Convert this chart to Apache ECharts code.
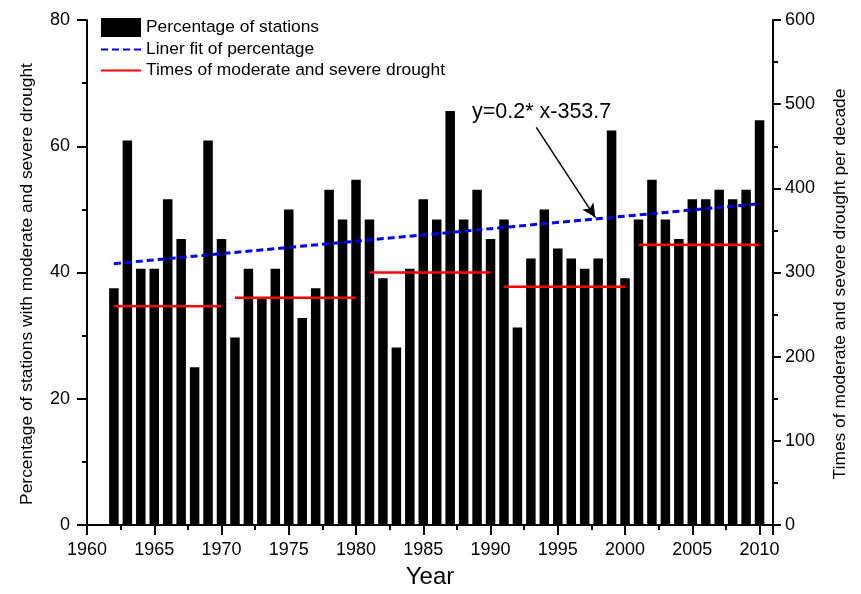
<!DOCTYPE html>
<html>
<head>
<meta charset="utf-8">
<script src="https://cdn.jsdelivr.net/npm/echarts@6/dist/echarts.min.js"></script>
<style>
  html, body { margin: 0; padding: 0; background: #fff; }
  #chart { width: 861px; height: 594px; }
</style>
</head>
<body>
<div id="chart"></div>
<script>
// percentage of stations with moderate and severe drought, 1962-2010
var years = [];
for (var y = 1962; y <= 2010; y++) years.push(y);

var percentage = [
    37.5, 60.9, 40.6, 40.6, 51.6, 45.3, 25.0, 60.9, 45.3,       // 1962-1970
    29.7, 40.6, 35.9, 40.6, 50.0, 32.8, 37.5, 53.1, 48.4, 54.7, // 1971-1980
    48.4, 39.1, 28.1, 40.6, 51.6, 48.4, 65.6, 48.4, 53.1, 45.3, // 1981-1990
    48.4, 31.3, 42.2, 50.0, 43.8, 42.2, 40.6, 42.2, 62.5, 39.1, // 1991-2000
    48.4, 54.7, 48.4, 45.3, 51.6, 51.6, 53.1, 51.6, 53.1, 64.1  // 2001-2010
];

// linear fit end points
var fitYears = [1962, 2010];
var fitValues = [41.4, 50.9];

// times of moderate and severe drought per decade
var decadeStart = [1962, 1971, 1981, 1991, 2001];
var decadeEnd = [1970, 1980, 1990, 2000, 2010];
var decadeTimes = [260, 270, 300, 283, 333];

var xTicks = [1960, 1965, 1970, 1975, 1980, 1985, 1990, 1995, 2000, 2005, 2010];

var FONT = '"Liberation Sans", Arial, sans-serif';

var chart = echarts.init(document.getElementById('chart'));

var barData = years.map(function (yr, i) { return [yr, percentage[i]]; });
var fitData = fitYears.map(function (yr, i) { return [yr, fitValues[i]]; });
var decadeData = [];
for (var i = 0; i < decadeStart.length; i++) {
    if (i > 0) decadeData.push('-');
    decadeData.push([decadeStart[i], decadeTimes[i]]);
    decadeData.push([decadeEnd[i], decadeTimes[i]]);
}

var axisLineStyle = { color: '#000', width: 2 };

var option = {
    backgroundColor: '#fff',
    animation: false,
    textStyle: { fontFamily: FONT, color: '#000' },
    grid: { left: 87, right: 88, top: 20, bottom: 63 },
    legend: {
        orient: 'vertical',
        left: 100,
        top: 18,
        padding: 0,
        itemWidth: 40,
        itemHeight: 19,
        itemGap: 4,
        textStyle: { fontSize: 17.4, fontFamily: FONT, color: '#000' },
        data: [
            { name: 'Percentage of stations', icon: 'rect' },
            { name: 'Liner fit of percentage', itemStyle: { opacity: 0 } },
            { name: 'Times of moderate and severe drought', itemStyle: { opacity: 0 } }
        ]
    },
    xAxis: {
        type: 'value',
        min: 1960,
        max: 2011,
        interval: 5,
        name: 'Year',
        nameLocation: 'middle',
        nameGap: 40,
        nameTextStyle: { fontSize: 24, fontFamily: FONT, color: '#000' },
        axisLine: { show: true, onZero: false, lineStyle: axisLineStyle },
        axisTick: { show: true, inside: false, length: 10, lineStyle: axisLineStyle },
        minorTick: { show: true, splitNumber: 2, length: 5, lineStyle: axisLineStyle },
        splitLine: { show: false },
        axisLabel: {
            fontSize: 18, margin: 16, color: '#000', fontFamily: FONT,
            showMaxLabel: false,
            formatter: function (v) { return xTicks.indexOf(v) >= 0 ? String(v) : ''; }
        }
    },
    yAxis: [
        {
            type: 'value',
            position: 'left',
            min: 0, max: 80, interval: 20,
            name: 'Percentage of stations with moderate and severe drought',
            nameLocation: 'middle',
            nameGap: 51,
            nameTextStyle: { fontSize: 17.4, fontFamily: FONT, color: '#000', padding: [0, 23, 0, 0] },
            axisLine: { show: true, lineStyle: axisLineStyle },
            axisTick: { show: true, length: 10, lineStyle: axisLineStyle },
            minorTick: { show: true, splitNumber: 2, length: 5, lineStyle: axisLineStyle },
            splitLine: { show: false },
            axisLabel: { fontSize: 18, margin: 17, color: '#000', fontFamily: FONT }
        },
        {
            type: 'value',
            position: 'right',
            min: 0, max: 600, interval: 100,
            name: 'Times of moderate and severe drought per decade',
            nameLocation: 'middle',
            nameGap: 59,
            nameTextStyle: { fontSize: 17.4, fontFamily: FONT, color: '#000', padding: [0, 23, 0, 0] },
            axisLine: { show: true, lineStyle: axisLineStyle },
            axisTick: { show: true, length: 8, lineStyle: axisLineStyle },
            minorTick: { show: true, splitNumber: 2, length: 5, lineStyle: axisLineStyle },
            splitLine: { show: false },
            axisLabel: { fontSize: 18, margin: 12, color: '#000', fontFamily: FONT }
        }
    ],
    series: [
        {
            name: 'Percentage of stations',
            type: 'bar',
            yAxisIndex: 0,
            barWidth: 9.5,
            itemStyle: { color: '#000' },
            data: barData,
            z: 2
        },
        {
            name: 'Liner fit of percentage',
            type: 'line',
            yAxisIndex: 0,
            symbol: 'none',
            lineStyle: { color: '#0000ff', width: 3, type: [7, 4] },
            itemStyle: { color: '#0000ff' },
            data: fitData,
            z: 4,
            markLine: {
                silent: true,
                symbol: ['none', 'arrow'],
                symbolSize: [10, 14],
                label: { show: false },
                lineStyle: { color: '#000', width: 1.5, type: 'solid' },
                data: [[
                    { coord: [1993.4, 63.0] },
                    { coord: [1997.8, 48.7] }
                ]]
            }
        },
        {
            name: 'Times of moderate and severe drought',
            type: 'line',
            yAxisIndex: 1,
            symbol: 'none',
            connectNulls: false,
            lineStyle: { color: '#ff0000', width: 2.5 },
            itemStyle: { color: '#ff0000' },
            data: decadeData,
            z: 3
        }
    ],
    graphic: [
        {
            type: 'text',
            left: 472,
            top: 101,
            style: { text: 'y=0.2* x-353.7', font: '21.5px ' + FONT, fill: '#000' }
        }
    ]
};

chart.setOption(option);
</script>
</body>
</html>
